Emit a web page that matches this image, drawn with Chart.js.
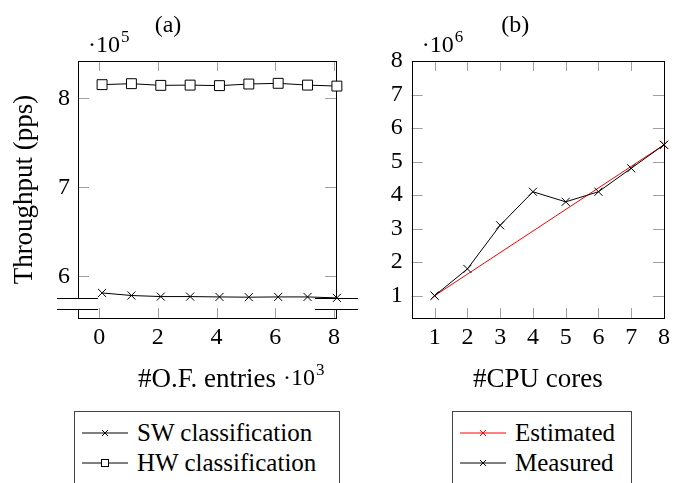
<!DOCTYPE html>
<html>
<head>
<meta charset="utf-8">
<script src="https://cdn.jsdelivr.net/npm/chart.js@4"></script>
<style>
  body { margin: 0; background: #fff; width: 678px; height: 483px; overflow: hidden; position: relative; font-family: "Liberation Serif", serif; }
  canvas { position: absolute; top: 0; }
  #chartA { left: 0; }
  #chartB { left: 360px; }
  .legend { position: absolute; top: 411px; height: 90px; border: 1px solid #444; font-size: 25px; padding: 6px 0 0 7px; box-sizing: border-box; }
  .legend div { height: 30px; display: flex; align-items: center; white-space: nowrap; }
  .legend svg { margin-right: 9px; }
</style>
</head>
<body>
<canvas id="chartA" width="360" height="400"></canvas>
<canvas id="chartB" width="318" height="400"></canvas>

<div class="legend" style="left:74px; width:266px;">
  <div><svg width="46" height="30"><line x1="0" y1="15" x2="46" y2="15" stroke="#000"/><path d="M20 12 L26 18 M26 12 L20 18" stroke="#000"/></svg>SW classification</div>
  <div><svg width="46" height="30"><line x1="0" y1="15" x2="46" y2="15" stroke="#000"/><rect x="19.5" y="11.5" width="7" height="7" fill="#fff" stroke="#000"/></svg>HW classification</div>
</div>
<div class="legend" style="left:452px; width:180px;">
  <div><svg width="46" height="30"><line x1="0" y1="15" x2="46" y2="15" stroke="#f00"/><path d="M20 12 L26 18 M26 12 L20 18" stroke="#f00"/></svg>Estimated</div>
  <div><svg width="46" height="30"><line x1="0" y1="15" x2="46" y2="15" stroke="#000"/><path d="M20 12 L26 18 M26 12 L20 18" stroke="#000"/></svg>Measured</div>
</div>

<script>
// (a) throughput vs number of OpenFlow entries
const entries = [100, 1100, 2100, 3100, 4100, 5100, 6100, 7100, 8100];
const swThroughput = [581200, 578300, 577100, 577100, 576700, 576400, 576700, 576700, 575600];
const hwThroughput = [815400, 816500, 814600, 814900, 814300, 816100, 816900, 814900, 813800];
const entryTicks = [0, 2000, 4000, 6000, 8000];
const throughputTicksA = [600000, 700000, 800000];

// (b) throughput vs number of CPU cores
const cores = [1, 2, 3, 4, 5, 6, 7, 8];
const measured = [1.0e6, 1.8e6, 3.1e6, 4.1e6, 3.8e6, 4.1e6, 4.8e6, 5.5e6];
const estimatedCores = [1, 8];
const estimated = [1.0e6, 5.5e6];
const coreTicks = [1, 2, 3, 4, 5, 6, 7, 8];
const throughputTicksB = [1e6, 2e6, 3e6, 4e6, 5e6, 6e6, 7e6, 8e6];

const FONT = "'Liberation Serif', 'Times New Roman', serif";
const tickFont = { family: FONT, size: 24, lineHeight: 1 };
const titleFont = { family: FONT, size: 27, lineHeight: 1.2 };

const toPoints = (xs, ys) => xs.map((x, i) => ({ x: x, y: ys[i] }));

// box + inner ticks on all four sides (pgfplots style)
const framePlugin = {
  id: "frame",
  beforeDatasetsDraw(chart) {
    const { ctx, chartArea: a, scales: { x, y } } = chart;
    ctx.save();
    ctx.strokeStyle = "#a0a0a0";
    ctx.lineWidth = 1;
    ctx.beginPath();
    x.ticks.forEach(t => {
      const px = Math.round(x.getPixelForValue(t.value)) + 0.5;
      ctx.moveTo(px, a.top); ctx.lineTo(px, a.top + 10);
      ctx.moveTo(px, a.bottom); ctx.lineTo(px, a.bottom - 10);
    });
    y.ticks.forEach(t => {
      const py = Math.round(y.getPixelForValue(t.value)) + 0.5;
      ctx.moveTo(a.left, py); ctx.lineTo(a.left + 11, py);
      ctx.moveTo(a.right, py); ctx.lineTo(a.right - 11, py);
    });
    ctx.stroke();
    ctx.strokeStyle = "#000";
    ctx.strokeRect(Math.round(a.left) + 0.5, Math.round(a.top) + 0.5,
      Math.round(a.right - a.left), Math.round(a.bottom - a.top));

    const brk = chart.options.plugins.frame.crunch;
    if (brk) {
      const t = Math.round(a.bottom - 20) + 0.5, b = Math.round(a.bottom - 9) + 0.5;
      ctx.fillStyle = "#fff";
      ctx.fillRect(a.left - 2, t + 0.5, 4, b - t - 1);
      ctx.fillRect(a.right - 2, t + 0.5, 4, b - t - 1);
      ctx.beginPath();
      [t, b].forEach(py => {
        ctx.moveTo(a.left - 21, py); ctx.lineTo(a.left + 20, py);
        ctx.moveTo(a.right - 21, py); ctx.lineTo(a.right + 22, py);
      });
      ctx.stroke();
    }
    ctx.restore();
  }
};

// "·10^n" scale factors
const factorPlugin = {
  id: "factor",
  afterDraw(chart) {
    const { ctx, chartArea: a } = chart;
    const draw = (text, sup, x, y) => {
      ctx.font = "24px " + FONT;
      ctx.fillText(text, x, y);
      const w = ctx.measureText(text).width;
      ctx.font = "17px " + FONT;
      ctx.fillText(sup, x + w + 1, y - 10);
    };
    ctx.save();
    ctx.fillStyle = "#000";
    ctx.textBaseline = "alphabetic";
    const f = chart.options.plugins.factor;
    if (f.y) draw("·10", f.y, a.left + 10, a.top - 9);
    if (f.x) draw("·10", f.x, a.right - 53, a.bottom + 67);
    ctx.restore();
  }
};

function baseOptions(title, yWidth, tickPadY, rightPad) {
  return {
    responsive: false,
    animation: false,
    devicePixelRatio: 1,
    events: [],
    layout: { padding: { left: 0, right: rightPad, top: 0, bottom: 0 } },
    plugins: {
      legend: { display: false },
      tooltip: { enabled: false },
      title: {
        display: true, text: title, color: "#000",
        font: { family: FONT, size: 24, weight: "normal", lineHeight: 1.2 },
        padding: { top: 11, bottom: 21.2 }
      }
    },
    scales: {
      x: {
        type: "linear",
        grid: { display: false, drawTicks: false },
        border: { display: false },
        ticks: { font: tickFont, color: "#000", padding: 8, maxRotation: 0, autoSkip: false },
        title: { display: true, color: "#000", font: titleFont, padding: { top: 0, bottom: 4 } },
        afterFit: s => { s.height = 82; }
      },
      y: {
        type: "linear",
        grid: { display: false, drawTicks: false },
        border: { display: false },
        ticks: { font: tickFont, color: "#000", padding: tickPadY, autoSkip: false },
        title: { display: false, color: "#000", font: titleFont, padding: { top: 9, bottom: 0 } },
        afterFit: s => { s.width = yWidth; }
      }
    }
  };
}

const optsA = baseOptions("(a)", 78, 8, 24);
optsA.plugins.frame = { crunch: true };
optsA.plugins.factor = { y: "5", x: "3" };
Object.assign(optsA.scales.x, {
  min: -720, max: 8070,
  afterBuildTicks: s => { s.ticks = entryTicks.map(v => ({ value: v })); }
});
optsA.scales.x.ticks.callback = v => v / 1000;
optsA.scales.x.title.text = "#O.F. entries";
Object.assign(optsA.scales.y, {
  min: 553000, max: 842000,
  afterBuildTicks: s => { s.ticks = throughputTicksA.map(v => ({ value: v })); }
});
optsA.scales.y.ticks.callback = v => v / 1e5;
optsA.scales.y.title.display = true;
optsA.scales.y.title.text = "Throughput (pps)";

new Chart(document.getElementById("chartA"), {
  type: "line",
  data: {
    datasets: [
      {
        label: "SW classification",
        data: toPoints(entries, swThroughput),
        borderColor: "#000", borderWidth: 1, tension: 0, clip: false,
        pointStyle: "crossRot", pointRadius: 5.7, pointBorderWidth: 1,
        pointBorderColor: "#000", pointBackgroundColor: "#000"
      },
      {
        label: "HW classification",
        data: toPoints(entries, hwThroughput),
        borderColor: "#000", borderWidth: 1, tension: 0, clip: false,
        pointStyle: "rect", pointRadius: 7, pointBorderWidth: 1,
        pointBorderColor: "#000", pointBackgroundColor: "#fff"
      }
    ]
  },
  options: optsA,
  plugins: [framePlugin, factorPlugin]
});

const optsB = baseOptions("(b)", 51.7, 9, 7.3);
optsB.plugins.frame = { crunch: false };
optsB.plugins.factor = { y: "6" };
Object.assign(optsB.scales.x, {
  min: 0.3, max: 8,
  afterBuildTicks: s => { s.ticks = coreTicks.map(v => ({ value: v })); }
});
optsB.scales.x.title.text = "#CPU cores";
Object.assign(optsB.scales.y, {
  min: 335000, max: 8e6,
  afterBuildTicks: s => { s.ticks = throughputTicksB.map(v => ({ value: v })); }
});
optsB.scales.y.ticks.callback = v => v / 1e6;

new Chart(document.getElementById("chartB"), {
  type: "line",
  data: {
    datasets: [
      {
        label: "Measured",
        data: toPoints(cores, measured),
        borderColor: "#000", borderWidth: 1, tension: 0, clip: false,
        pointStyle: "crossRot", pointRadius: 5.7, pointBorderWidth: 1,
        pointBorderColor: "#000", pointBackgroundColor: "#000"
      },
      {
        label: "Estimated",
        data: toPoints(estimatedCores, estimated),
        borderColor: "#f00", borderWidth: 1, tension: 0, clip: false,
        pointStyle: "crossRot", pointRadius: 5.7, pointBorderWidth: 1,
        pointBorderColor: "#f00", pointBackgroundColor: "#f00"
      }
    ]
  },
  options: optsB,
  plugins: [framePlugin, factorPlugin]
});
</script>
</body>
</html>
